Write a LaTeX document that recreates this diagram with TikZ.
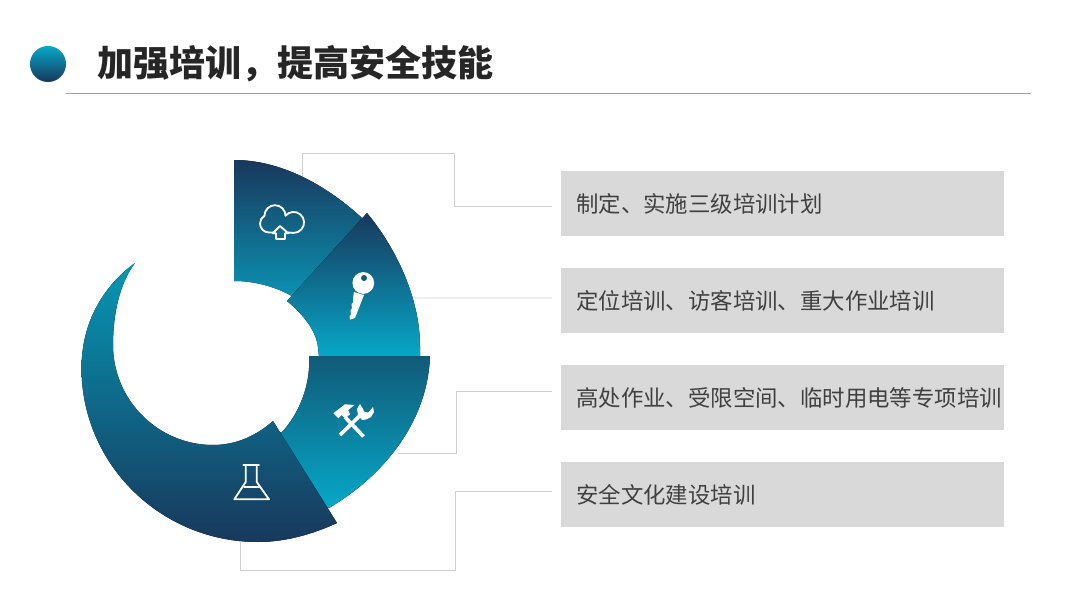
\documentclass[tikz,border=0pt]{standalone}
\usepackage{fontspec}
\usepackage{xcolor}
\usepackage{tikz}
\usetikzlibrary{positioning}
\newfontfamily\cjk{Noto Sans CJK SC}
\definecolor{navyseg}{RGB}{24,56,92}
\definecolor{midseg}{RGB}{17,90,120}
\definecolor{tealseg}{RGB}{6,168,200}
\definecolor{tealend}{RGB}{11,148,180}
\definecolor{leadgray}{RGB}{208,208,208}
\definecolor{boxgray}{RGB}{217,217,217}
\definecolor{textgray}{RGB}{64,64,64}

\begin{document}
\begin{tikzpicture}[
    x=0.025cm, y=0.025cm,
    titletext/.style={font=\cjk\bfseries\fontsize{25.6}{28}\selectfont, text=black!85, inner sep=0pt, anchor=west},
    bullet/.style={circle, minimum size=0.9cm, inner sep=0pt, top color=tealseg, bottom color=navyseg},
    itembox/.style={fill=boxgray, minimum width=11.075cm, minimum height=1.625cm, inner sep=0pt, anchor=west},
    itemtext/.style={font=\cjk\fontsize{15.93}{18}\selectfont, text=textgray, inner sep=0pt},
    leader/.style={draw=leadgray, line width=0.7pt},
    rule/.style={draw=black!35, line width=0.9pt},
    segA/.style={top color=navyseg, bottom color=tealend},
    segB/.style={top color=navyseg, bottom color=tealseg},
    segC/.style={top color=midseg, bottom color=tealseg},
    segD/.style={top color=tealseg!90!black, bottom color=navyseg},
    iconline/.style={draw=white, line width=1.3pt, line join=round, line cap=round},
    iconfill/.style={fill=white}]
    \useasboundingbox (0,0) rectangle (1080,608);

    % Heading
    \node[bullet] (dot) at (48,544) {};
    \node[titletext] (title) at (97,544) {加强培训，提高安全技能};
    \coordinate (ruleL) at (66,514.5);
    \coordinate (ruleR) at (1031,514.5);
    \draw[rule] (ruleL) -- (ruleR);

    % Grey boxes
    \node[itembox] (boxA) at (561,404.5) {};
    \node[itembox] (boxB) at (561,307.5) {};
    \node[itembox] (boxC) at (561,210.5) {};
    \node[itembox] (boxD) at (561,113.5) {};
    \node[itemtext, right=0.375cm of boxA.west] (textA) {制定、实施三级培训计划};
    \node[itemtext, right=0.375cm of boxB.west] (textB) {定位培训、访客培训、重大作业培训};
    \node[itemtext, right=0.375cm of boxC.west] (textC) {高处作业、受限空间、临时用电等专项培训};
    \node[itemtext, right=0.375cm of boxD.west] (textD) {安全文化建设培训};

    % Leader lines
    \coordinate (segAnchorA) at (302,431);
    \coordinate (segAnchorB) at (413,310);
    \coordinate (segAnchorC) at (398,155);
    \coordinate (segAnchorD) at (240,66);
    \coordinate (endA) at ([shift={(-9,-2.5)}]boxA.west);
    \coordinate (endB) at ([shift={(-9,2.5)}]boxB.west);
    \coordinate (endC) at ([shift={(-9,6.5)}]boxC.west);
    \coordinate (endD) at ([shift={(-9,3.5)}]boxD.west);
    \draw[leader] (segAnchorA) |- (454,455) |- (endA);
    \draw[leader] (segAnchorB) -- (endB);
    \draw[leader] (segAnchorC) -- (456,155) |- (endC);
    \draw[leader] (segAnchorD) |- (455,38) |- (endD);

    % Ring segments
    \fill[segA] (234,327) -- (234,448) .. controls (280,448) and (325,424) .. (362,390) -- (370,385)
        -- (298,308) -- (290,313) .. controls (273,322) and (254,327) .. (234,327) -- cycle;
    \fill[segB] (367,395) .. controls (400,355) and (420,305) .. (420,262) -- (420,251) -- (319,251)
        -- (318,261) .. controls (316,277) and (304,293) .. (287,307) -- cycle;
    \fill[segC] (309,252) -- (430,252) .. controls (428,190) and (388,135) .. (329,100) -- (320,100)
        -- (275,176) -- (282,176) .. controls (298,193) and (311,222) .. (309,252) -- cycle;
    \fill[segD] (337,85) .. controls (312,73.5) and (285,66) .. (258,66)
        .. controls (160.5,66) and (81.5,144) .. (81.5,240)
        .. controls (81.5,285) and (103,322) .. (135,345)
        .. controls (120,325) and (113,295) .. (113,263)
        .. controls (113,208) and (158,163) .. (213,163)
        .. controls (236,163) and (256,172) .. (273,187) -- cycle;

    % Cloud icon
    \draw[iconline] (269,375.5) arc (270:120:9) arc (180:0:10.5) arc (140:-90:10.5) -- (288.3,375.5)
        (272.7,375.5) -- (269,375.5);
    \draw[iconline] (272.7,374.7) -- (280,382) -- (288.3,374.7) -- (285,374.7) -- (285,369) -- (276,369) -- (276,374.7) -- cycle;

    % Key icon
    \fill[iconfill] (363.3,325) circle (10.9);
    \fill[iconfill] (354,316) -- (364,313) -- (355,290) -- (350,288.3) -- (349.5,292) -- (351,293.5) -- (350.5,298)
        -- (352,299.5) -- (351.5,304) -- (353,305.5) -- (353,310) -- cycle;
    \fill[midseg] (364,330) circle (3);

    % Hammer and wrench icon
    \draw[iconline, line width=2.6pt, line cap=butt] (363.5,171.5) -- (345,191);
    \fill[iconfill] (333.3,194.7) -- (345,203.7) -- (354.3,203) -- (348.3,198) -- (350,193.7) -- (345,189.7) -- (341.7,193) -- (338.3,189.7) -- cycle;
    \draw[iconline, line width=2.6pt, line cap=butt] (340,173) -- (360,192.5);
    \fill[iconfill] (360,204) -- (362.5,200) -- (364,196.5) -- (368,195.5) -- (370.5,198) -- (373,201) -- (374,196) -- (371,191)
        -- (366,188.5) -- (362,188) -- (358,193) -- (357,199) -- cycle;

    % Flask icon
    \draw[iconline] (243.3,143) -- (259,143) (245.7,143) -- (245.7,126) -- (234.3,108.7) -- (269,108.7) -- (256.7,126) -- (256.7,143);
    \draw[iconline] (244.3,121.3) -- (259,121.3);
  \end{tikzpicture}
\end{document}
